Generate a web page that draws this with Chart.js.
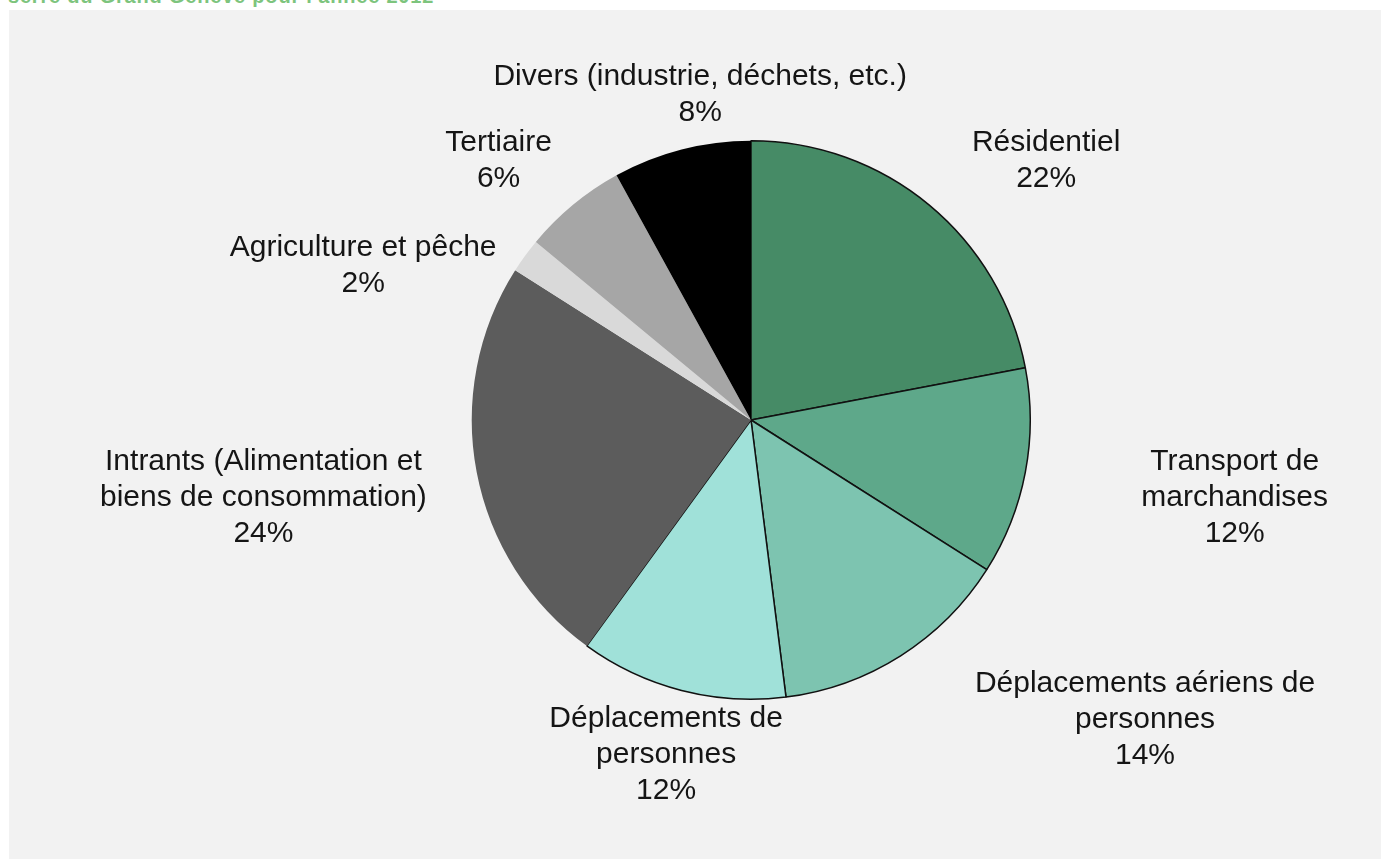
<!DOCTYPE html>
<html>
<head>
<meta charset="utf-8">
<script src="https://cdn.jsdelivr.net/npm/chart.js@4/dist/chart.umd.min.js"></script>
<style>
    html, body { margin: 0; padding: 0; background: #ffffff; overflow: hidden; }
    body { width: 1382px; height: 859px; position: relative; }
    #title {
        position: absolute; left: 8px; top: -14px;
        font: bold 20px "Liberation Sans", Arial, sans-serif; line-height: 20px;
        letter-spacing: 0.8px; color: #7dc47d; white-space: nowrap;
    }
    #box {
        position: absolute; left: 9px; top: 10px; width: 1372px; height: 849px;
        background: #f2f2f2;
    }
</style>
</head>
<body>
<div id="title">serre du Grand Genève pour l'année 2012</div>
<div id="box"><canvas id="pieChart" width="1372" height="849"></canvas></div>
<script>
// Data, clockwise from the top
const categories = [
    ['Résidentiel'],
    ['Transport de', 'marchandises'],
    ['Déplacements aériens de', 'personnes'],
    ['Déplacements de', 'personnes'],
    ['Intrants (Alimentation et', 'biens de consommation)'],
    ['Agriculture et pêche'],
    ['Tertiaire'],
    ['Divers (industrie, déchets, etc.)']
];
const shares = [22, 12, 14, 12, 24, 2, 6, 8];

// Styling
const sliceColors = ['#468b66', '#5ea88a', '#7dc4b0', '#a0e1d9', '#5c5c5c', '#d9d9d9', '#a6a6a6', '#000000'];
const sliceBorders = [1.5, 1.5, 1.5, 1.5, 0, 0, 0, 0];
// label anchor (first line centre) relative to pie centre, in units of the radius
const labelOffsets = [
    [1.057, -0.993], [1.732, 0.15], [1.411, 0.943], [-0.304, 1.071],
    [-1.746, 0.15], [-1.389, -0.618], [-0.904, -0.993], [-0.182, -1.229]
];

const outsideLabels = {
    id: 'outsideLabels',
    afterDraw(chart) {
        const ctx = chart.ctx;
        const arcs = chart.getDatasetMeta(0).data;
        ctx.save();
        ctx.font = '30px "Liberation Sans", Arial, sans-serif';
        ctx.fillStyle = '#151515';
        ctx.textAlign = 'center';
        ctx.textBaseline = 'middle';
        arcs.forEach((arc, i) => {
            const r = arc.outerRadius;
            const x = arc.x + labelOffsets[i][0] * r;
            let y = arc.y + labelOffsets[i][1] * r;
            const lines = categories[i].concat([shares[i] + '%']);
            lines.forEach(line => {
                ctx.fillText(line, x, y);
                y += 36;
            });
        });
        ctx.restore();
    }
};

new Chart(document.getElementById('pieChart'), {
    type: 'pie',
    data: {
        labels: categories.map(c => c.join(' ')),
        datasets: [{
            data: shares,
            backgroundColor: sliceColors,
            borderColor: '#111111',
            borderWidth: sliceBorders
        }]
    },
    options: {
        responsive: false,
        animation: false,
        layout: { padding: { top: 130, bottom: 159, left: 112, right: 0 } },
        plugins: {
            legend: { display: false },
            tooltip: { enabled: false }
        }
    },
    plugins: [outsideLabels]
});
</script>
</body>
</html>
